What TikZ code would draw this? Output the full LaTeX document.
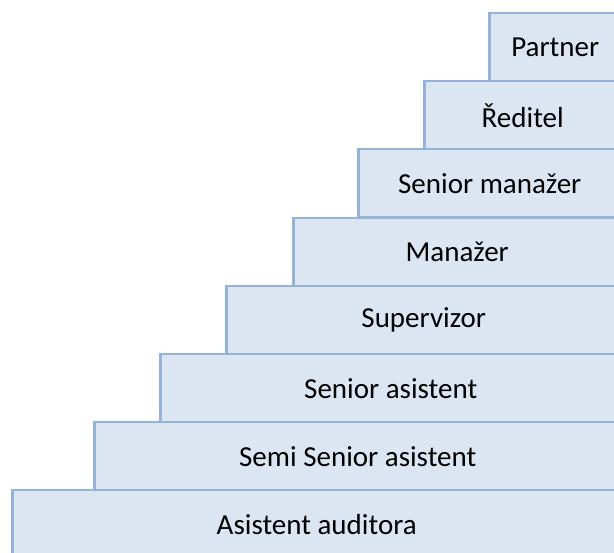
\documentclass[tikz,border=0pt]{standalone}
\usepackage{fontspec}
\setmainfont{Carlito}
\definecolor{stepfill}{RGB}{220,230,242}
\definecolor{stepline}{RGB}{149,179,215}
\tikzstyle{stepbox}=[draw=stepline,fill=stepfill,line width=2.5pt,anchor=north west,minimum height=68pt,inner sep=0pt,font=\fontsize{29}{34}\selectfont]

\begin{document}
\begin{tikzpicture}[x=1pt,y=-1pt]
\useasboundingbox (0,0) rectangle (614,553);
\clip (0,0) rectangle (614,553);
\node[stepbox,minimum width=132pt] at (488, 12) (partner) {Partner};
\node[stepbox,minimum width=197pt] at (423, 80) (reditel) {Ředitel};
\node[stepbox,minimum width=263pt] at (357, 148) (seniormanazer) {Senior manažer};
\node[stepbox,minimum width=328pt] at (292, 217) (manazer) {Manažer};
\node[stepbox,minimum width=395pt] at (225, 285) (supervizor) {Supervizor};
\node[stepbox,minimum width=461pt] at (159, 353) (seniorasistent) {Senior asistent};
\node[stepbox,minimum width=527pt] at (93, 421) (semisenior) {Semi Senior asistent};
\node[stepbox,minimum width=609pt] at (11, 489) (asistent) {Asistent auditora};
\end{tikzpicture}
\end{document}
